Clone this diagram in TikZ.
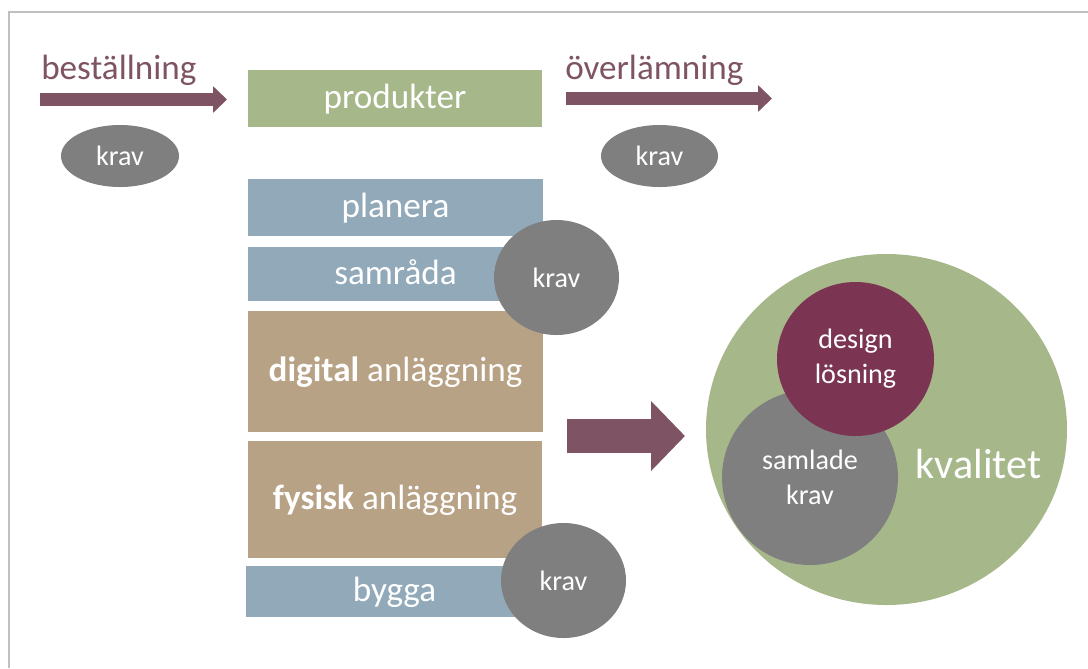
\documentclass[tikz,border=0pt]{standalone}
\usepackage{fontspec}
\setmainfont{Carlito}
\usepackage{tikz}
\usetikzlibrary{arrows.meta,shapes.geometric}
\usepackage{xcolor}
\definecolor{pilfarg}{HTML}{7E5465}
\definecolor{gron}{HTML}{A6B78A}
\definecolor{blagra}{HTML}{92A9BA}
\definecolor{brun}{HTML}{B8A285}
\definecolor{kravgra}{HTML}{7F7F7F}
\definecolor{vinrod}{HTML}{7B3552}
\definecolor{ramgra}{HTML}{C0C0C0}

\begin{document}
\begin{tikzpicture}[x=0.25mm, y=-0.25mm,
    ruta/.style={inner sep=0pt, minimum width=73.75mm, text=white,
        text height=6.56mm, text depth=1.5mm, font=\fontsize{25}{30}\selectfont},
    krav/.style={ellipse, fill=kravgra, inner sep=0pt, text=white, align=center,
        font=\fontsize{20}{25}\selectfont},
    etikett/.style={anchor=base west, inner sep=0pt, text=pilfarg, font=\fontsize{25}{30}\selectfont},
    pil/.style={draw=pilfarg, line width=3.25mm, -{Triangle[length=3.5mm,width=6.5mm]}},
    storpil/.style={draw=pilfarg, line width=8.5mm, -{Triangle[length=8.5mm,width=17mm]}}]
    \useasboundingbox (0,0) rectangle (1088,668);
    % ram
    \draw[ramgra, line width=0.6mm] (9,668) -- (9,12) -- (1088,12);

    % beställning och överlämning
    \node[etikett] (bestallning) at (41,79) {beställning};
    \node[etikett] (overlamning) at (565,79) {överlämning};
    \coordinate (b0) at (40,99.5);
    \coordinate (b1) at (227,99.5);
    \draw[pil] (b0) -- (b1);
    \coordinate (o0) at (566,98.5);
    \coordinate (o1) at (772,98.5);
    \draw[pil] (o0) -- (o1);
    \node[krav, minimum width=29.5mm, minimum height=15.5mm] (krav1) at (120,156) {krav};
    \node[krav, minimum width=29.25mm, minimum height=15.5mm] (krav2) at (659.5,156) {krav};

    % rutor
    \node[ruta, fill=gron, minimum width=73.5mm, minimum height=14.25mm] (produkter) at (395,98.5) {produkter};
    \node[ruta, fill=blagra, minimum height=14.25mm] (planera) at (395.5,207.5) {planera};
    \node[ruta, fill=blagra, minimum height=13.5mm] (samrada) at (395.5,274) {samråda};
    \node[ruta, fill=brun, minimum height=30.25mm] (digital) at (395.5,371.5) {\textbf{digital} anläggning};
    \node[ruta, fill=brun, minimum width=73.5mm, minimum height=29.25mm] (fysisk) at (395,499.5) {\textbf{fysisk} anläggning};
    \node[ruta, fill=blagra, minimum width=74.25mm, minimum height=12.75mm] (bygga) at (394.5,591.5) {bygga};
    \node[krav, minimum width=31.25mm, minimum height=28.75mm] (krav3) at (556.5,277.5) {krav};
    \node[krav, minimum width=31.25mm, minimum height=28.75mm] (krav4) at (563.5,580.5) {krav};

    % till kvalitet
    \coordinate (s0) at (567,436);
    \coordinate (s1) at (685,436);
    \draw[storpil] (s0) -- (s1);

    % kvalitet
    \node[ellipse, fill=gron, minimum width=90.25mm, minimum height=87.75mm] (helhet) at (886.5,429.5) {};
    \node[anchor=base, inner sep=0pt, text=white, font=\fontsize{30}{36}\selectfont] (kvalitet) at (978.5,478) {kvalitet};
    \node[krav, minimum width=44mm, minimum height=43.75mm] (samlade) at (810,477.5) {samlade\\krav};
    \node[krav, fill=vinrod, minimum width=39.25mm, minimum height=38.5mm] (design) at (855.5,359) {design\\lösning};
\end{tikzpicture}
\end{document}
